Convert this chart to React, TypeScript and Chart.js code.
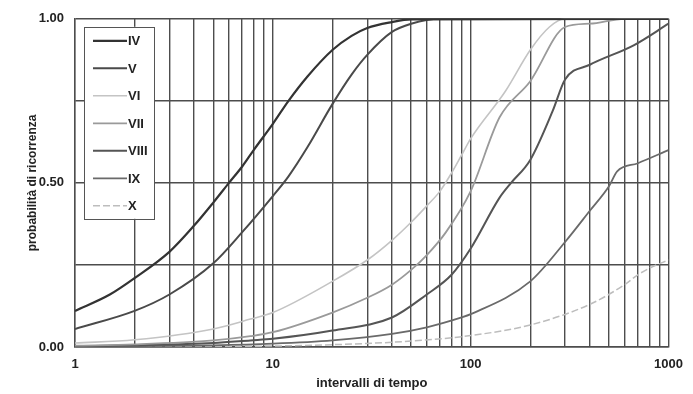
import React, { useEffect, useRef } from "react";
import { Chart, registerables } from "chart.js";

Chart.register(...registerables);

// ---- data ----
const seriesNames = ["IV", "V", "VI", "VII", "VIII", "IX", "X"];

const tIV = [1, 1.5, 2, 3, 4, 5, 6, 7, 8, 10, 12, 15, 20, 25, 30, 40, 50, 1000];
const pIV = [0.11, 0.16, 0.21, 0.29, 0.37, 0.44, 0.5, 0.55, 0.6, 0.68, 0.75, 0.825, 0.905, 0.948, 0.972, 0.99, 0.998, 1.0];

const tV = [1, 2, 3, 5, 7, 10, 12, 15, 20, 25, 30, 40, 50, 70, 1000];
const pV = [0.055, 0.11, 0.16, 0.255, 0.35, 0.46, 0.52, 0.61, 0.74, 0.83, 0.89, 0.96, 0.985, 1.0, 1.0];

const tVI = [1, 2, 5, 7.7, 10, 20, 30, 40, 50, 60, 70, 80, 90, 100, 150, 200, 250, 300, 1000];
const pVI = [0.012, 0.022, 0.055, 0.085, 0.105, 0.2, 0.265, 0.325, 0.38, 0.43, 0.475, 0.53, 0.585, 0.635, 0.78, 0.905, 0.975, 1.0, 1.0];

const tVII = [1, 2, 5, 7.7, 10, 20, 30, 40, 50, 60, 75, 100, 140, 200, 300, 400, 600, 1000];
const pVII = [0.004, 0.008, 0.02, 0.033, 0.045, 0.105, 0.15, 0.19, 0.235, 0.28, 0.35, 0.475, 0.7, 0.81, 0.975, 0.985, 1.0, 1.0];

const tVIII = [1, 2, 5, 7.7, 10, 20, 40, 60, 80, 100, 140, 160, 200, 260, 300, 400, 670, 1000];
const pVIII = [0.002, 0.005, 0.012, 0.02, 0.025, 0.05, 0.09, 0.16, 0.22, 0.3, 0.455, 0.5, 0.57, 0.72, 0.815, 0.86, 0.92, 0.985];

const tIX = [1, 5, 10, 20, 40, 60, 90, 100, 200, 300, 400, 500, 550, 700, 1000];
const pIX = [0.001, 0.005, 0.01, 0.02, 0.04, 0.06, 0.09, 0.1, 0.2, 0.32, 0.415, 0.49, 0.535, 0.56, 0.6];

const tX = [1, 10, 20, 50, 100, 200, 400, 600, 700, 800, 1000];
const pX = [0.0005, 0.003, 0.007, 0.018, 0.035, 0.067, 0.13, 0.19, 0.22, 0.24, 0.265];

const xGridValues = [
  1, 2, 3, 4, 5, 6, 7, 8, 9,
  10, 20, 30, 40, 50, 60, 70, 80, 90,
  100, 200, 300, 400, 500, 600, 700, 800, 900,
  1000,
];
const xTickLabels = [1, 10, 100, 1000];
const yTickLabels = [0, 0.5, 1];

const xTitle = "intervalli di tempo";
const yTitle = "probabilità di ricorrenza";

const seriesT = [tIV, tV, tVI, tVII, tVIII, tIX, tX];
const seriesP = [pIV, pV, pVI, pVII, pVIII, pIX, pX];
const seriesColor = ["#333333", "#4a4a4a", "#c4c4c4", "#9a9a9a", "#555555", "#6a6a6a", "#bdbdbd"];
const seriesWidth = [2.2, 2, 1.6, 1.8, 2, 1.8, 1.5];
const seriesDash: number[][] = [[], [], [], [], [], [], [7, 3]];

const FONT = "'Liberation Sans', Arial, Helvetica, sans-serif";

const legendBox = {
  id: "legendBox",
  afterDatasetsDraw(chart: any) {
    const { ctx, chartArea } = chart;
    const x0 = chartArea.left + 9;
    const y0 = chartArea.top + 8;
    const w = 70;
    const h = 192;
    ctx.save();
    ctx.fillStyle = "#ffffff";
    ctx.fillRect(x0, y0, w, h);
    ctx.strokeStyle = "#555555";
    ctx.lineWidth = 1;
    ctx.strokeRect(Math.round(x0) + 0.5, Math.round(y0) + 0.5, w, h);
    chart.data.datasets.forEach((ds: any, i: number) => {
      const y = y0 + 14 + i * 27.5;
      ctx.strokeStyle = ds.borderColor;
      ctx.lineWidth = ds.borderWidth;
      ctx.setLineDash(ds.borderDash || []);
      ctx.beginPath();
      ctx.moveTo(x0 + 9, y);
      ctx.lineTo(x0 + 43, y);
      ctx.stroke();
      ctx.setLineDash([]);
      ctx.fillStyle = "#222222";
      ctx.font = `bold 13px ${FONT}`;
      ctx.textBaseline = "middle";
      ctx.textAlign = "left";
      ctx.fillText(ds.label, x0 + 44, y + 1);
    });
    ctx.restore();
  },
};

export default function App() {
  const canvasRef = useRef<HTMLCanvasElement | null>(null);

  useEffect(() => {
    document.body.style.margin = "0";
    const canvas = canvasRef.current;
    if (!canvas) return;

    const datasets = seriesNames.map((name, i) => ({
      label: name,
      data: seriesT[i].map((t, j) => ({ x: t, y: seriesP[i][j] })),
      borderColor: seriesColor[i],
      backgroundColor: seriesColor[i],
      borderWidth: seriesWidth[i],
      borderDash: seriesDash[i],
      pointRadius: 0,
      fill: false,
      cubicInterpolationMode: "monotone" as const,
      tension: 0.4,
    }));

    const chart = new Chart(canvas, {
      type: "line",
      data: { datasets },
      options: {
        animation: false,
        responsive: false,
        maintainAspectRatio: false,
        layout: { padding: { left: 0, top: 16, right: 21, bottom: 0 } },
        plugins: {
          legend: { display: false },
          tooltip: { enabled: false },
        },
        scales: {
          x: {
            type: "logarithmic",
            min: 1,
            max: 1000,
            afterBuildTicks: (scale: any) => {
              scale.ticks = xGridValues.map((v) => ({ value: v }));
            },
            afterFit: (scale: any) => {
              scale.height = 47;
            },
            grid: { color: "#4d4d4d", lineWidth: 1.4, drawTicks: false },
            border: { display: true, color: "#4d4d4d", width: 1.4 },
            ticks: {
              autoSkip: false,
              maxRotation: 0,
              padding: 10,
              color: "#222222",
              font: { family: FONT, size: 13, weight: "bold" },
              callback: (v: any) => (xTickLabels.includes(Number(v)) ? String(v) : ""),
            },
            title: {
              display: true,
              text: xTitle,
              color: "#222222",
              font: { family: FONT, size: 13, weight: "bold" },
              padding: { top: 0, bottom: 3 },
            },
          },
          y: {
            type: "linear",
            min: 0,
            max: 1,
            afterFit: (scale: any) => {
              scale.width = 75;
            },
            grid: { color: "#4d4d4d", lineWidth: 1.4, drawTicks: false },
            border: { display: true, color: "#4d4d4d", width: 1.4 },
            ticks: {
              stepSize: 0.25,
              padding: 11,
              color: "#222222",
              font: { family: FONT, size: 13, weight: "bold" },
              callback: (v: any) => (yTickLabels.includes(Number(v)) ? Number(v).toFixed(2) : ""),
            },
            title: {
              display: true,
              text: yTitle,
              color: "#222222",
              font: { family: FONT, size: 12, weight: "bold" },
              padding: { top: 25, bottom: 0 },
            },
          },
        },
      },
      plugins: [legendBox],
    });

    return () => chart.destroy();
  }, []);

  return (
    <div style={{ position: "absolute", left: 0, top: 0, width: 693, height: 394, background: "#fff" }}>
      <canvas ref={canvasRef} width={693} height={394} />
    </div>
  );
}
